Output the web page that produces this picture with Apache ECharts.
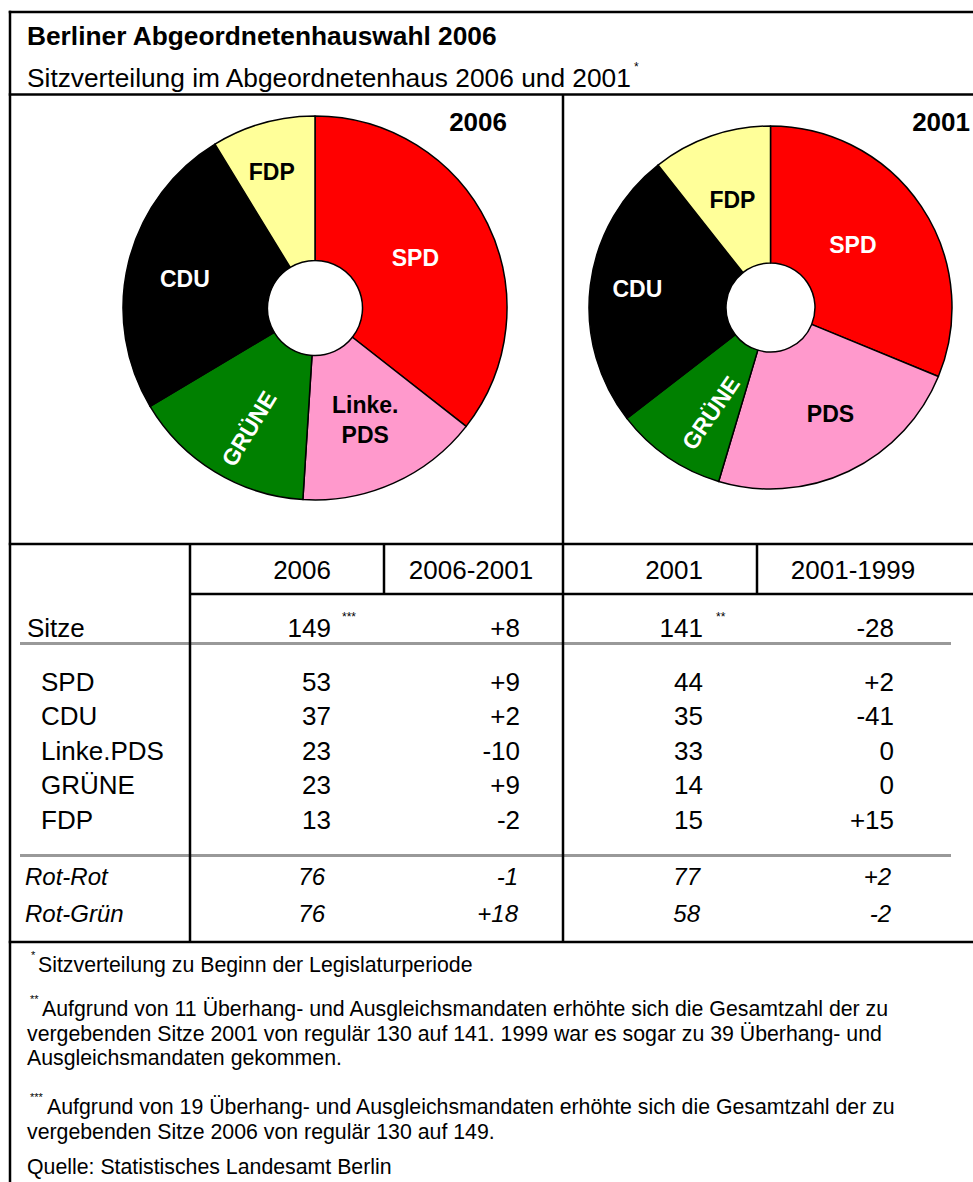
<!DOCTYPE html>
<html><head><meta charset="utf-8">
<script src="https://cdn.jsdelivr.net/npm/echarts@6/dist/echarts.min.js"></script>
<style>html,body{margin:0;padding:0;background:#fff}#c{width:973px;height:1182px}</style>
</head><body><div id="c"></div>
<script>
// ---------- data ----------
const titleText = 'Berliner Abgeordnetenhauswahl 2006';
const subtitleText = 'Sitzverteilung im Abgeordnetenhaus 2006 und 2001';
const pieNames2006 = ['SPD', 'Linke.PDS', 'GRÜNE', 'CDU', 'FDP'];
const pieLabels2006 = ['SPD', 'Linke.\nPDS', 'GRÜNE', 'CDU', 'FDP'];
const pieSeats2006 = [53, 23, 23, 37, 13];
const pieNames2001 = ['SPD', 'PDS', 'GRÜNE', 'CDU', 'FDP'];
const pieLabels2001 = ['SPD', 'PDS', 'GRÜNE', 'CDU', 'FDP'];
const pieSeats2001 = [44, 33, 14, 35, 15];
const tableHeaders = ['2006', '2006-2001', '2001', '2001-1999'];
const totalLabel = 'Sitze';
const totalValues = ['149', '+8', '141', '-28'];
const totalMarks = ['***', '**'];
const tableParties = ['SPD', 'CDU', 'Linke.PDS', 'GRÜNE', 'FDP'];
const seats2006 = [53, 37, 23, 23, 13];
const change2006 = ['+9', '+2', '-10', '+9', '-2'];
const seats2001 = [44, 35, 33, 14, 15];
const change2001 = ['+2', '-41', '0', '0', '+15'];
const coalitions = ['Rot-Rot', 'Rot-Grün'];
const coal2006 = [76, 76];
const coalChange2006 = ['-1', '+18'];
const coal2001 = [77, 58];
const coalChange2001 = ['+2', '-2'];
const footMarks = ['*', '**', '***'];
const footnotes = [
  ['Sitzverteilung zu Beginn der Legislaturperiode'],
  ['Aufgrund von 11 Überhang- und Ausgleichsmandaten erhöhte sich die Gesamtzahl der zu',
   'vergebenden Sitze 2001 von regulär 130 auf 141. 1999 war es sogar zu 39 Überhang- und',
   'Ausgleichsmandaten gekommen.'],
  ['Aufgrund von 19 Überhang- und Ausgleichsmandaten erhöhte sich die Gesamtzahl der zu',
   'vergebenden Sitze 2006 von regulär 130 auf 149.']
];
const sourceText = 'Quelle: Statistisches Landesamt Berlin';

// ---------- styles ----------
const FF = '"Liberation Sans", Arial, Helvetica, sans-serif';
const partyColor = { 'SPD': '#ff0000', 'Linke.PDS': '#ff99cc', 'PDS': '#ff99cc', 'GRÜNE': '#008000', 'CDU': '#000000', 'FDP': '#ffff99' };
const partyLabelColor = { 'SPD': '#ffffff', 'Linke.PDS': '#000000', 'PDS': '#000000', 'GRÜNE': '#ffffff', 'CDU': '#ffffff', 'FDP': '#000000' };
const labelNudge2006 = [[-10, 4], [0, 0], [-14.7, 6.6], [-11, 0], [-10, -18]];
const labelNudge2001 = [[-14, 2], [10, 2], [-4.8, 10.6], [-18, -4], [0, 2]];

function pieSeries(center, radius, names, labels, values, nudges) {
  return {
    type: 'pie', center: center, radius: radius, startAngle: 90, clockwise: true,
    avoidLabelOverlap: false, silent: true, animation: false,
    itemStyle: { borderColor: '#000', borderWidth: 1.5 },
    label: { show: true, position: 'inside', fontFamily: FF, fontWeight: 'bold', fontSize: 23, lineHeight: 30 },
    labelLine: { show: false },
    emphasis: { disabled: true },
    data: values.map((v, i) => ({
      name: names[i], value: v,
      itemStyle: { color: partyColor[names[i]] },
      label: {
        formatter: labels[i], color: partyLabelColor[names[i]],
        rotate: names[i] === 'GRÜNE' ? 'radial' : 0,
        offset: nudges[i]
      }
    }))
  };
}

const g = [];
function txt(s, x, y, o) {
  o = o || {};
  const size = o.size || 26;
  const font = (o.italic ? 'italic ' : '') + (o.bold ? 'bold ' : '') + size + 'px ' + FF;
  g.push({ type: 'text', x: x, y: y, silent: true, z: 10,
    style: { text: s, font: font, fill: o.color || '#000',
      textAlign: o.align || 'left', align: o.align || 'left',
      textVerticalAlign: 'middle', verticalAlign: 'middle' } });
}
function line(x1, y1, x2, y2, w, c, z) {
  g.push({ type: 'line', silent: true, z: z || 5, shape: { x1: x1, y1: y1, x2: x2, y2: y2 },
    style: { stroke: c || '#000', lineWidth: w || 2.5 } });
}

// frame lines
const R = 975;
line(8.75, 12, R, 12);
line(10, 10.75, 10, 1182);
line(8.75, 94.5, R, 94.5);
line(563, 94.5, 563, 942);
line(8.75, 544, R, 544);
line(190, 544, 190, 942);
line(190, 594, R, 594);
line(384, 544, 384, 594);
line(757, 544, 757, 594);
line(20, 643.5, 951, 643.5, 3, '#999999', 4);
line(20, 855.5, 951, 855.5, 3, '#999999', 4);
line(8.75, 942, R, 942);

// titles
txt(titleText, 27, 36, { bold: true, size: 26.3 });
txt(subtitleText, 27, 78, { size: 26.3 });
txt('*', 634, 67, { size: 12 });
txt('2006', 507, 122, { bold: true, size: 26, align: 'right' });
txt('2001', 970, 122, { bold: true, size: 26, align: 'right' });

// table header
const headX = [331, 471, 703, 853];
const headAlign = ['right', 'center', 'right', 'center'];
tableHeaders.forEach((h, i) => txt(h, headX[i], 570, { align: headAlign[i] }));
// columns (right aligned)
const colX = [331, 520, 703, 894];
txt(totalLabel, 27, 628);
totalValues.forEach((v, i) => txt(v, colX[i], 628, { align: 'right' }));
txt(totalMarks[0], 342, 617, { size: 12 });
txt(totalMarks[1], 716, 617, { size: 12 });

const rowY0 = 681.5, rowStep = 34.6;
tableParties.forEach((p, i) => {
  const y = rowY0 + i * rowStep;
  txt(p, 41, y);
  txt(String(seats2006[i]), colX[0], y, { align: 'right' });
  txt(change2006[i], colX[1], y, { align: 'right' });
  txt(String(seats2001[i]), colX[2], y, { align: 'right' });
  txt(change2001[i], colX[3], y, { align: 'right' });
});
const coalX = [325, 518, 700, 891];
coalitions.forEach((c, i) => {
  const y = 876 + i * 37;
  const o = { italic: true, size: 24, align: 'right' };
  txt(c, 25, y, { italic: true, size: 24 });
  txt(String(coal2006[i]), coalX[0], y, o);
  txt(coalChange2006[i], coalX[1], y, o);
  txt(String(coal2001[i]), coalX[2], y, o);
  txt(coalChange2001[i], coalX[3], y, o);
});

// footnotes
const fnSize = 21.3, fnLH = 24.5;
const fnStartY = [965, 1009, 1107];
const fnFirstX = [38, 42, 47];
const fnMarkX = [31, 30, 30];
footnotes.forEach((lines, k) => {
  txt(footMarks[k], fnMarkX[k], fnStartY[k] - 10, { size: 11 });
  lines.forEach((l, j) => txt(l, j === 0 ? fnFirstX[k] : 27, fnStartY[k] + j * fnLH, { size: fnSize }));
});
txt(sourceText, 27, 1167, { size: fnSize });

const chart = echarts.init(document.getElementById('c'), null, { renderer: 'svg', width: 973, height: 1182 });
chart.setOption({
  animation: false,
  backgroundColor: '#ffffff',
  series: [
    pieSeries([315, 308], [47.5, 192], pieNames2006, pieLabels2006, pieSeats2006, labelNudge2006),
    pieSeries([770.5, 307.5], [44.5, 181.5], pieNames2001, pieLabels2001, pieSeats2001, labelNudge2001)
  ],
  graphic: { elements: g }
});
</script>
</body></html>
